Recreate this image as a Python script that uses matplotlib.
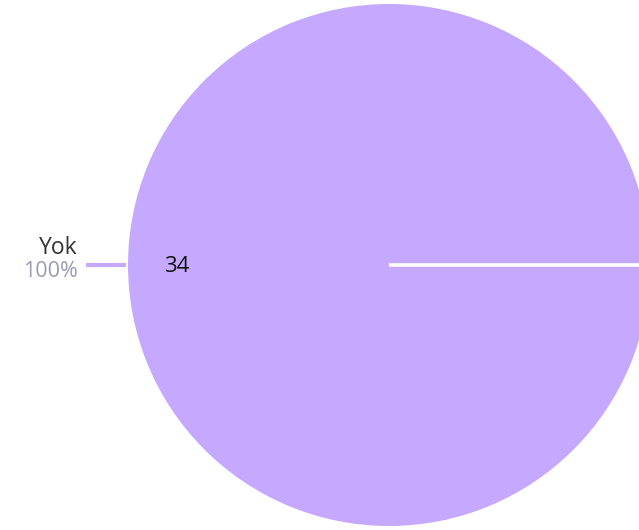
import matplotlib.pyplot as plt
import numpy as np

plt.rcParams['font.family'] = ['Open Sans', 'DejaVu Sans']

labels = ['Yok']
values = [34]
colors = ['#c5a8ff']

total = sum(values)
perc = [v / total * 100 for v in values]

fig = plt.figure(figsize=(6.39, 5.30), dpi=100)
ax = fig.add_axes([0, 0, 1, 1])

cx, cy, r = 389, 265, 261

wedges, _ = ax.pie(values, colors=colors, radius=r, center=(cx, cy),
                   startangle=0, counterclock=False, frame=True)
ax.set_xlim(0, 639)
ax.set_ylim(530, 0)
ax.set_aspect('equal')
ax.axis('off')

# slice boundary (start angle 0)
ax.plot([cx, cx + r], [cy, cy], color='white', lw=2.6, solid_capstyle='butt')

# value inside slice, label outside on the left
ax.text(cx - r + 49, cy + 1, str(values[0]), ha='center', va='center',
        fontsize=16, color='#111111')
ax.plot([cx - r - 42, cx - r - 2], [cy, cy], color=colors[0], lw=3,
        solid_capstyle='butt')
ax.text(cx - r - 50, cy - 11, labels[0], ha='right', va='baseline',
        fontsize=16.5, color='#333333')
ax.text(cx - r - 50, cy + 12, '%d%%' % round(perc[0]), ha='right', va='baseline',
        fontsize=15.5, color='#9b9bb2')

fig.savefig('out.png', dpi=100)
